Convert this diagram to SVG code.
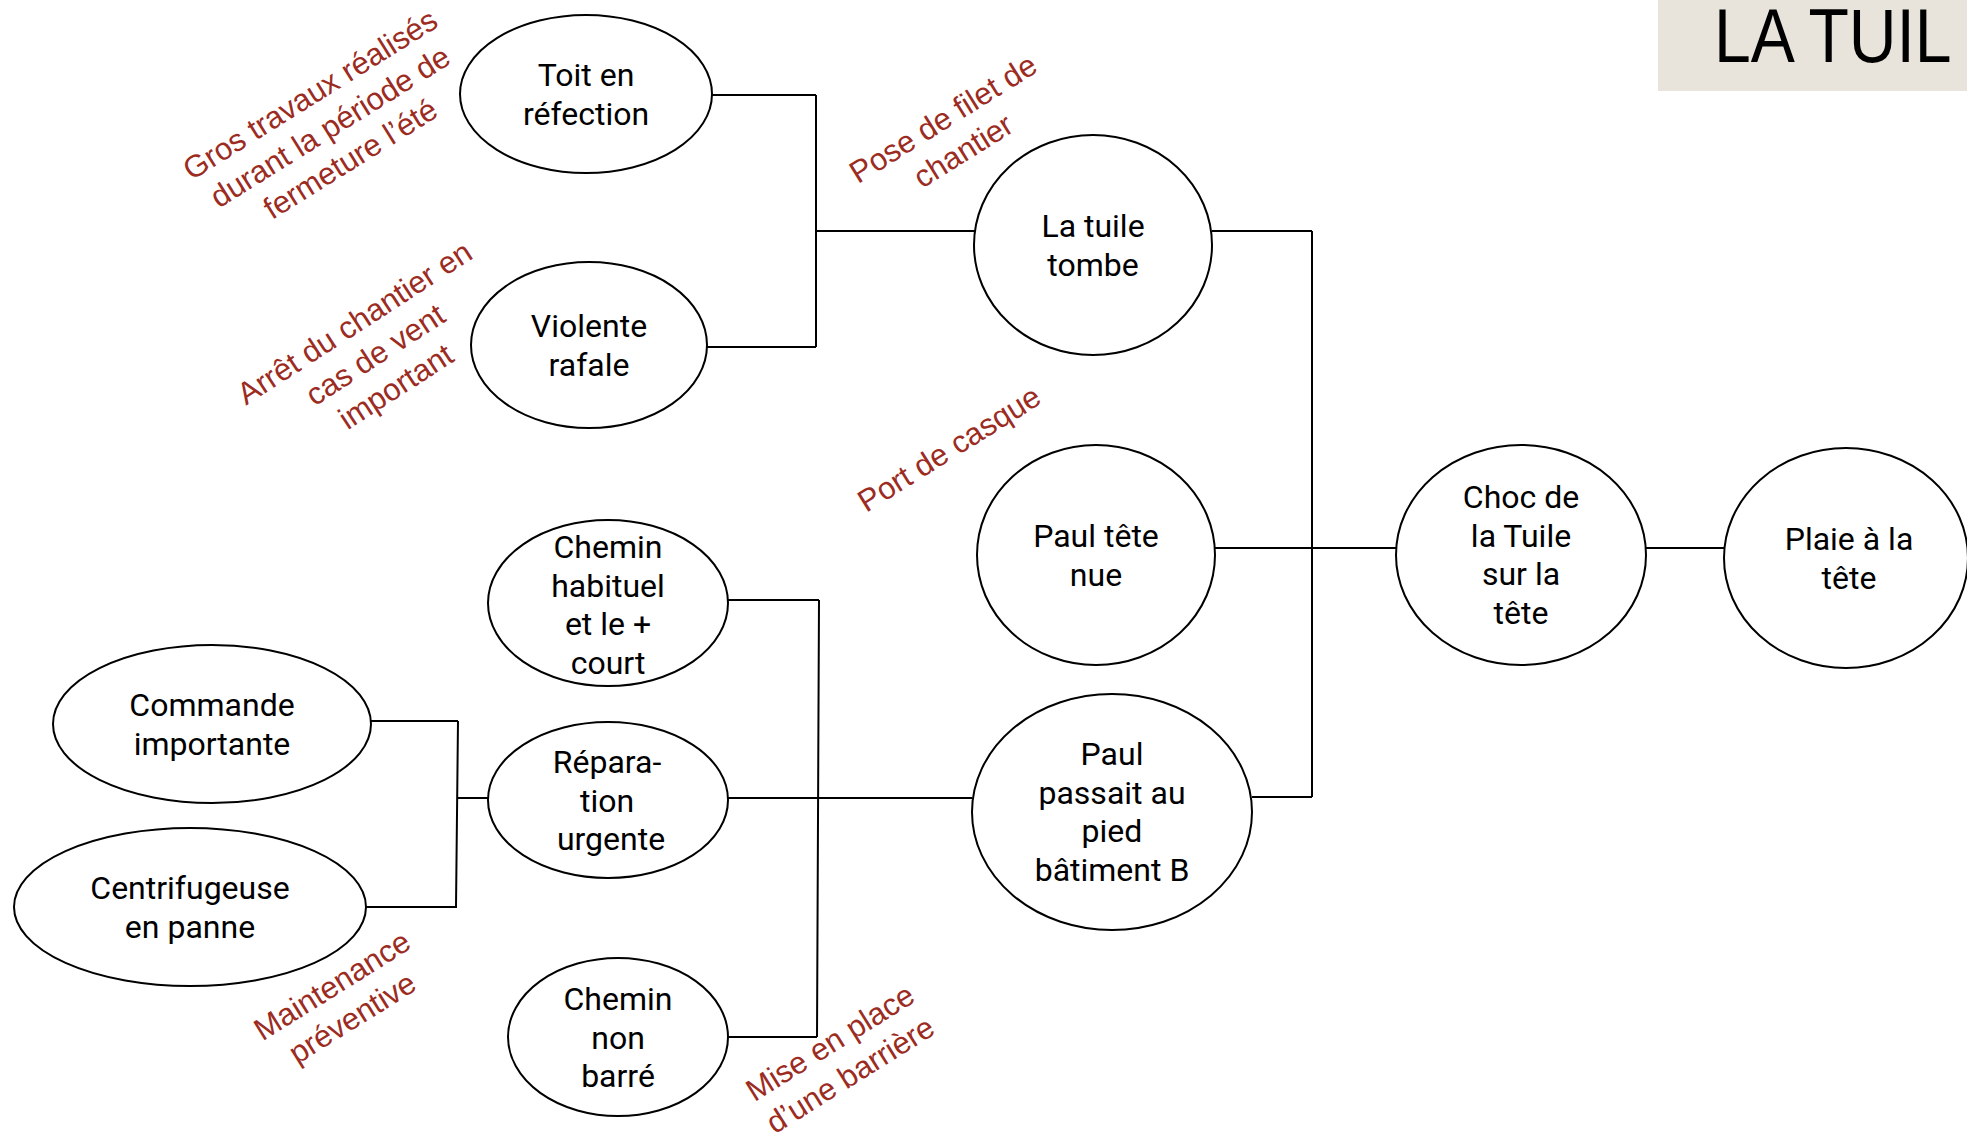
<svg xmlns="http://www.w3.org/2000/svg" width="1967" height="1139" viewBox="0 0 1967 1139">
<style>
.n ellipse{fill:#fff;stroke:#000;stroke-width:2}
.n text{font-family:Roboto,"Liberation Sans",sans-serif;font-size:32px;fill:#000;text-anchor:middle}
.c path{fill:none;stroke:#000;stroke-width:2}
.r{font-family:"Liberation Sans",Arial,sans-serif;font-size:31px;fill:#9b2c1f;text-anchor:middle}
</style>
<rect width="1967" height="1139" fill="#fff"/>
<g id="title">
<rect x="1658" y="0" width="320" height="91" fill="#e8e4dc"/>
<text transform="translate(1714,62) scale(0.87,1)" x="0" y="0" font-family="'Liberation Sans',Arial,sans-serif" font-size="76" fill="#000">LA TUIL</text>
</g>
<g id="connectors" class="c">
<path d="M712,95 H816 M816,95 V347 M707,347 H816 M816,231 H975"/>
<path d="M1212,231 H1312 M1312,231 V797 M1214,548 H1397 M1252,797 H1312 M1646,548 H1724"/>
<path d="M371,721 H458 M458,721 L456,907 M366,907 H457 M457,798 H488"/>
<path d="M728,600 H819 M819,600 L817,1037 M728,1037 H817 M728,798 H972"/>
</g>
<g id="n-toit" class="n"><ellipse cx="586" cy="94" rx="126" ry="79"/><text x="586"><tspan x="586" y="86">Toit en</tspan><tspan x="586" y="124.5">réfection</tspan></text></g>
<g id="n-violente" class="n"><ellipse cx="589" cy="345" rx="118" ry="83"/><text><tspan x="589" y="337">Violente</tspan><tspan x="589" y="375.5">rafale</tspan></text></g>
<g id="n-tuile" class="n"><ellipse cx="1093" cy="245" rx="119" ry="110"/><text><tspan x="1093" y="237">La tuile</tspan><tspan x="1093" y="275.5">tombe</tspan></text></g>
<g id="n-paultete" class="n"><ellipse cx="1096" cy="555" rx="119" ry="110"/><text><tspan x="1096" y="547">Paul tête</tspan><tspan x="1096" y="585.5">nue</tspan></text></g>
<g id="n-choc" class="n"><ellipse cx="1521" cy="555" rx="125" ry="110"/><text><tspan x="1521" y="508">Choc de</tspan><tspan x="1521" y="546.5">la Tuile</tspan><tspan x="1521" y="585">sur la</tspan><tspan x="1521" y="623.5">tête</tspan></text></g>
<g id="n-plaie" class="n"><ellipse cx="1846" cy="558" rx="122" ry="110"/><text><tspan x="1849" y="550">Plaie à la</tspan><tspan x="1849" y="588.5">tête</tspan></text></g>
<g id="n-chemin1" class="n"><ellipse cx="608" cy="603" rx="120" ry="83"/><text><tspan x="608" y="558">Chemin</tspan><tspan x="608" y="596.5">habituel</tspan><tspan x="608" y="635">et le +</tspan><tspan x="608" y="673.5">court</tspan></text></g>
<g id="n-commande" class="n"><ellipse cx="212" cy="724" rx="159" ry="79"/><text><tspan x="212" y="716">Commande</tspan><tspan x="212" y="754.5">importante</tspan></text></g>
<g id="n-reparation" class="n"><ellipse cx="608" cy="800" rx="120" ry="78"/><text><tspan x="607" y="773">Répara-</tspan><tspan x="607" y="811.5">tion</tspan><tspan x="611" y="850">urgente</tspan></text></g>
<g id="n-centri" class="n"><ellipse cx="190" cy="907" rx="176" ry="79"/><text><tspan x="190" y="899">Centrifugeuse</tspan><tspan x="190" y="937.5">en panne</tspan></text></g>
<g id="n-chemin2" class="n"><ellipse cx="618" cy="1037" rx="110" ry="79"/><text><tspan x="618" y="1010">Chemin</tspan><tspan x="618" y="1048.5">non</tspan><tspan x="618" y="1087">barré</tspan></text></g>
<g id="n-paulpassait" class="n"><ellipse cx="1112" cy="812" rx="140" ry="118"/><text><tspan x="1112" y="765">Paul</tspan><tspan x="1112" y="803.5">passait au</tspan><tspan x="1112" y="842">pied</tspan><tspan x="1112" y="880.5">bâtiment B</tspan></text></g>
<g id="labels">
<text class="r" transform="translate(331,128) rotate(-32)"><tspan x="0" y="-29">Gros travaux réalisés</tspan><tspan x="0" y="9">durant la période de</tspan><tspan x="0" y="47">fermeture l’été</tspan></text>
<text class="r" transform="translate(376,356) rotate(-33)"><tspan x="0" y="-29">Arrêt du chantier en</tspan><tspan x="0" y="9">cas de vent</tspan><tspan x="0" y="47">important</tspan></text>
<text class="r" transform="translate(954,136) rotate(-32)"><tspan x="0" y="-10">Pose de filet de</tspan><tspan x="0" y="28">chantier</tspan></text>
<text class="r" transform="translate(950,450) rotate(-32)" x="0" y="9">Port de casque</text>
<text class="r" transform="translate(343,1003) rotate(-32)"><tspan x="0" y="-10">Maintenance</tspan><tspan x="0" y="28">préventive</tspan></text>
<text class="r" transform="translate(841,1060) rotate(-32)"><tspan x="0" y="-10">Mise en place</tspan><tspan x="0" y="28">d’une barrière</tspan></text>
</g>
</svg>
